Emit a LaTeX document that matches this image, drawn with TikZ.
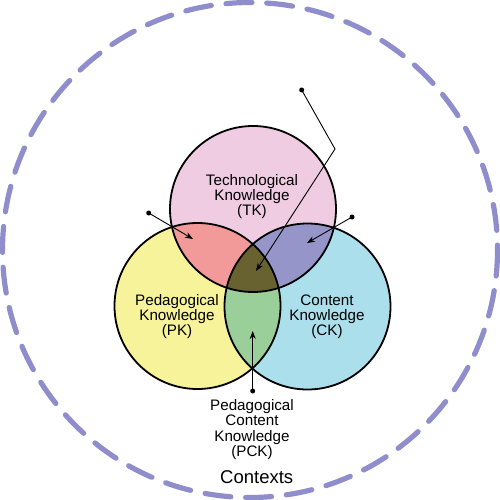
\documentclass[tikz,border=0pt]{standalone}
\usepackage{fontspec}
\setmainfont{Liberation Sans}
\usetikzlibrary{arrows.meta}
\definecolor{contextblue}{RGB}{143,141,203}
\definecolor{tkpink}{RGB}{239,204,226}
\definecolor{pkyellow}{RGB}{247,243,154}
\definecolor{ckblue}{RGB}{171,223,235}
\definecolor{tpksalmon}{RGB}{242,154,154}
\definecolor{tcklavender}{RGB}{150,149,201}
\definecolor{pckgreen}{RGB}{154,207,154}
\definecolor{tpackolive}{RGB}{104,98,48}

\begin{document}
\begin{tikzpicture}[
        x=1pt, y=-1pt,
        context/.style={draw=contextblue, line width=5.2pt, line cap=round, dash pattern=on 26pt off 14.8pt},
        knowring/.style={draw=black, line width=1.8pt},
        labeltext/.style={align=center, inner sep=0pt, font=\fontsize{15.2}{15.2}\selectfont},
        leader/.style={line width=0.9pt, -{Stealth[length=8pt, width=6pt]}},
        pindot/.style={circle, fill=black, inner sep=0pt, minimum size=5pt}
    ]
        \useasboundingbox (0,0) rectangle (500,500);

        % Circle centres
        \coordinate (cTK) at (253,209);
        \coordinate (cPK) at (197.5,306);
        \coordinate (cCK) at (307.5,306.5);

        % Contexts ring
        \draw[context] (250,250) circle[radius=247.5];

        % Knowledge domains
        \fill[tkpink] (cTK) circle[radius=83];
        \fill[pkyellow] (cPK) circle[radius=83];
        \fill[ckblue] (cCK) circle[radius=83];

        % Overlaps
        \begin{scope}
            \clip (cTK) circle[radius=83];
            \fill[tpksalmon] (cPK) circle[radius=83];
            \fill[tcklavender] (cCK) circle[radius=83];
        \end{scope}
        \begin{scope}
            \clip (cPK) circle[radius=83];
            \fill[pckgreen] (cCK) circle[radius=83];
            \clip (cCK) circle[radius=83];
            \fill[tpackolive] (cTK) circle[radius=83];
        \end{scope}

        \draw[knowring] (cTK) circle[radius=83];
        \draw[knowring] (cPK) circle[radius=83];
        \draw[knowring] (cCK) circle[radius=83];

        % Labels
        \node[labeltext] (TK) at (252,196.5) {Technological\\Knowledge\\(TK)};
        \node[labeltext] (PK) at (177,316.5) {Pedagogical\\Knowledge\\(PK)};
        \node[labeltext] (CK) at (327,316.5) {Content\\Knowledge\\(CK)};
        \node[labeltext] (PCK) at (252,429.5) {Pedagogical\\Content\\Knowledge\\(PCK)};
        \node[font=\fontsize{18.5}{20}\selectfont, inner sep=0pt] (Contexts) at (256.7,477) {Contexts};

        % Pointers
        \node[pindot] (dTPACK) at (301.7,90) {};
        \coordinate (bend) at (335,149);
        \coordinate (tTPACK) at (256,271);
        \draw[leader] (dTPACK.center) -- (bend) -- (tTPACK);

        \node[pindot] (dTPK) at (148.7,213) {};
        \coordinate (tTPK) at (193,239);
        \draw[leader] (dTPK.center) -- (tTPK);

        \node[pindot] (dTCK) at (352,217) {};
        \coordinate (tTCK) at (307,243);
        \draw[leader] (dTCK.center) -- (tTCK);

        \node[pindot] (dPCK) at (252.7,391) {};
        \coordinate (tPCK) at (252.7,331);
        \draw[leader] (dPCK.center) -- (tPCK);
    \end{tikzpicture}
\end{document}
